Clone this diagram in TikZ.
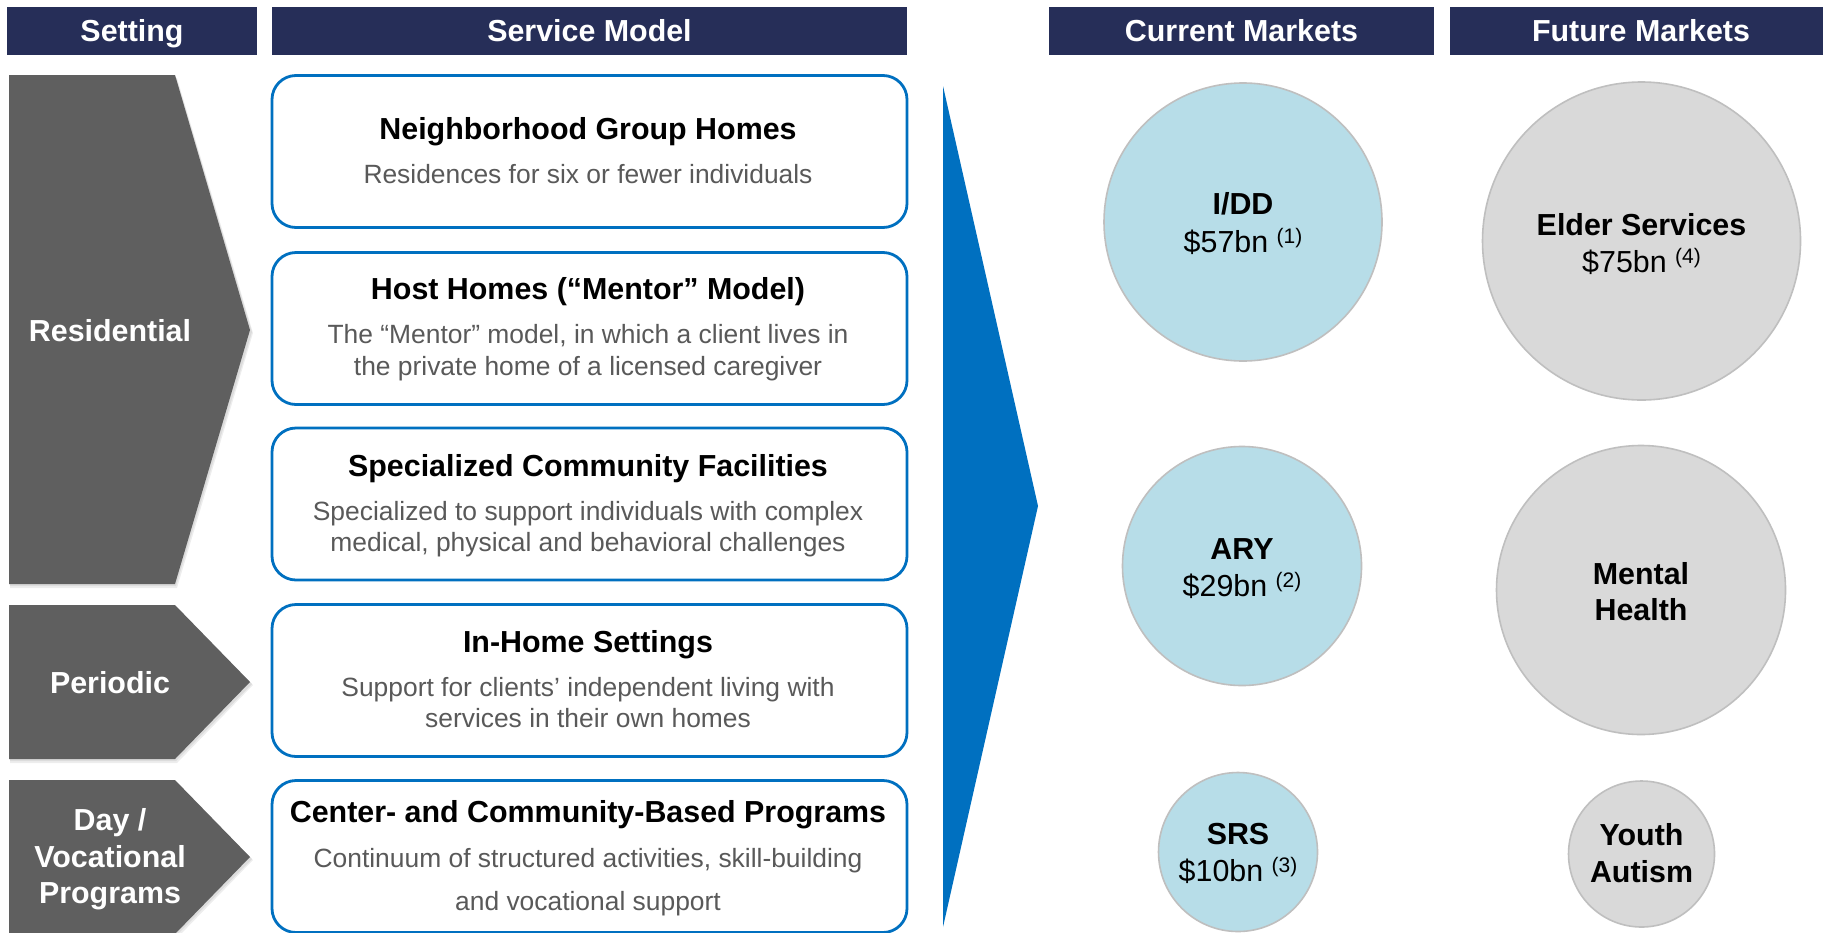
\documentclass[tikz,border=0pt]{standalone}
\usepackage{fontspec}
\setmainfont{Liberation Sans}
\definecolor{navy}{RGB}{38,46,88}
\definecolor{boxblue}{HTML}{0070C0}
\definecolor{chevgray}{HTML}{5F5F5F}
\definecolor{subgray}{HTML}{595959}
\definecolor{aqua}{HTML}{B7DDE8}
\definecolor{futgray}{HTML}{D9D9D9}
\definecolor{ringgray}{HTML}{BFBFBF}
\newcommand{\bigbold}{\bfseries\fontsize{15.2}{18}\selectfont}
\newcommand{\bigreg}{\fontsize{15.2}{18}\selectfont}
\newcommand{\subreg}{\fontsize{13.2}{16}\selectfont}
\newcommand{\fnote}[1]{\raisebox{4.5pt}{\fontsize{10.5}{12}\selectfont(#1)}}
\tikzset{
  hdr/.style={fill=navy, text=white, font=\bigbold, inner sep=0pt,
    text height=10.8pt, text depth=0pt, minimum height=24pt},
  svcbox/.style={draw=boxblue, line width=1.4pt, fill=white, rounded corners=12pt,
    minimum width=317.5pt, minimum height=76pt, inner sep=0pt},
  ttl/.style={anchor=base, inner sep=0pt, font=\bigbold},
  sub/.style={anchor=base, inner sep=0pt, font=\subreg, text=subgray},
  setlbl/.style={anchor=base, inner sep=0pt, text=white, font=\bigbold},
  mkt/.style={circle, draw=ringgray, line width=0.8pt, inner sep=0pt},
  cur/.style={mkt, fill=aqua},
  fut/.style={mkt, fill=futgray},
  mlbl/.style={anchor=base, inner sep=0pt, font=\bigbold},
  mval/.style={anchor=base, inner sep=0pt, font=\bigreg},
  chev/.style={fill=chevgray},
  chevshade/.style={fill=black, opacity=0.07},
}
\newcommand{\chevron}[3]{%
  % #1 top, #2 tip height, #3 bottom
  \fill[chevshade] (10,#1+3) -- (177,#1+3) -- (253,#2+3) -- (177,#3+4) -- (10,#3+4) -- cycle;
  \fill[chevshade] (10,#1+2) -- (176,#1+2) -- (252,#2+2) -- (176,#3+2) -- (10,#3+2) -- cycle;
  \fill[chev] (9,#1) -- (175,#1) -- (250,#2) -- (175,#3) -- (9,#3) -- cycle;
}
\begin{document}
\begin{tikzpicture}[x=0.5pt,y=-0.5pt]
\begin{scope}
\clip (0,0) rectangle (1823,932);
\fill[white] (0,0) rectangle (1823,932);

% column headers
\node[hdr, minimum width=125pt]   (hset) at (132,31)    {Setting};
\node[hdr, minimum width=317.5pt] (hsvc) at (589.5,31)  {Service Model};
\node[hdr, minimum width=192.5pt] (hcur) at (1241.5,31) {Current Markets};
\node[hdr, minimum width=191pt]   (hfut) at (1641,31)   {Future Markets};

% setting chevrons
\chevron{75}{330}{584}
\chevron{605}{682}{759}
\chevron{780}{857}{934}
\node[setlbl] (sres) at (110,341) {Residential};
\node[setlbl] (sper) at (110,693) {Periodic};
\node[setlbl] (sday1) at (110,830) {Day /};
\node[setlbl] (sday2) at (110,867) {Vocational};
\node[setlbl] (sday3) at (110,903) {Programs};

% service model boxes
\node[svcbox] (b1) at (589.5,151.5) {};
\node[svcbox] (b2) at (589.5,328.5) {};
\node[svcbox] (b3) at (589.5,504) {};
\node[svcbox] (b4) at (589.5,680.5) {};
\node[svcbox] (b5) at (589.5,856.5) {};

\node[ttl] (b1t) at (588,139) {Neighborhood Group Homes};
\node[sub] (b1s) at (588,183) {Residences for six or fewer individuals};

\node[ttl] (b2t) at (588,299) {Host Homes (“Mentor” Model)};
\node[sub] (b2s1) at (588,343) {The “Mentor” model, in which a client lives in};
\node[sub] (b2s2) at (588,375) {the private home of a licensed caregiver};

\node[ttl] (b3t) at (588,476) {Specialized Community Facilities};
\node[sub] (b3s1) at (588,520) {Specialized to support individuals with complex};
\node[sub] (b3s2) at (588,551) {medical, physical and behavioral challenges};

\node[ttl] (b4t) at (588,652) {In-Home Settings};
\node[sub] (b4s1) at (588,696) {Support for clients’ independent living with};
\node[sub] (b4s2) at (588,727) {services in their own homes};

\node[ttl] (b5t) at (588,822) {Center- and Community-Based Programs};
\node[sub] (b5s1) at (588,867) {Continuum of structured activities, skill-building};
\node[sub] (b5s2) at (588,910) {and vocational support};

% big arrow towards the markets
\fill[boxblue] (943,86) -- (1038,506) -- (943,927) -- cycle;

% current markets
\node[cur, minimum size=139pt]   (idd) at (1243,222) {};
\node[cur, minimum size=119.5pt] (ary) at (1242,566) {};
\node[cur, minimum size=79.5pt]  (srs) at (1238,852) {};
\node[mlbl] (iddt) at (1243,214) {I/DD};
\node[mval] (iddv) at (1243,252) {\$57bn \fnote{1}};
\node[mlbl] (aryt) at (1242,559) {ARY};
\node[mval] (aryv) at (1242,596) {\$29bn \fnote{2}};
\node[mlbl] (srst) at (1238,844) {SRS};
\node[mval] (srsv) at (1238,881) {\$10bn \fnote{3}};

% future markets
\node[fut, minimum size=159pt]   (eld) at (1641.5,241) {};
\node[fut, minimum size=144.5pt] (men) at (1641,590) {};
\node[fut, minimum size=73pt]    (yth) at (1641.5,854) {};
\node[mlbl] (eldt) at (1641.5,235) {Elder Services};
\node[mval] (eldv) at (1641.5,272) {\$75bn \fnote{4}};
\node[mlbl] (men1) at (1641,584) {Mental};
\node[mlbl] (men2) at (1641,620) {Health};
\node[mlbl] (yth1) at (1641.5,845) {Youth};
\node[mlbl] (yth2) at (1641.5,882) {Autism};
\end{scope}
\pgfresetboundingbox
\path[use as bounding box] (0,0) rectangle (1823,932);
\end{tikzpicture}
\end{document}
